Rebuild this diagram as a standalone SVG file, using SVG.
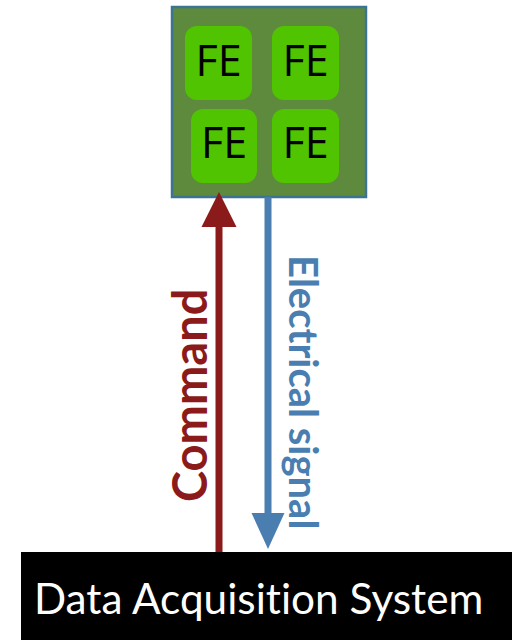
<svg xmlns="http://www.w3.org/2000/svg" width="512" height="640" viewBox="0 0 512 640">
<style>
.fe rect{fill:#50c400;}
.fe text{font-family:"Open Sans","Noto Sans",sans-serif;font-size:43px;fill:#000;text-anchor:middle;}
.lbl{font-family:Lato,"Liberation Sans",sans-serif;font-weight:bold;}
</style>
<rect width="512" height="640" fill="#fff"/>
<g id="module">
<rect x="172" y="7" width="194" height="190" fill="#5e8a3e" stroke="#3d7393" stroke-width="2.5"/>
</g>
<g id="fe1" class="fe"><rect x="185" y="26" width="67" height="74" rx="12"/><text x="218.5" y="76">FE</text></g>
<g id="fe2" class="fe"><rect x="272" y="26" width="67" height="74" rx="12"/><text x="305.5" y="76">FE</text></g>
<g id="fe3" class="fe"><rect x="191" y="109" width="66" height="74" rx="12"/><text x="224" y="158">FE</text></g>
<g id="fe4" class="fe"><rect x="272" y="109" width="67" height="74" rx="12"/><text x="305.5" y="158">FE</text></g>
<g id="connectors">
<line x1="219" y1="552" x2="219" y2="225" stroke="#8b1a1a" stroke-width="7"/>
<polygon points="219,192 236.5,227 201.5,227" fill="#8b1a1a"/>
<line x1="268" y1="197" x2="268" y2="515" stroke="#4a7eb0" stroke-width="7"/>
<polygon points="268,549 251.5,513 284.5,513" fill="#4a7eb0"/>
<text class="lbl" transform="translate(206.5,502) rotate(-90)" font-size="47" fill="#8b1a1a">Command</text>
<text class="lbl" transform="translate(289,255) rotate(90)" font-size="40" fill="#4a7eb0">Electrical signal</text>
</g>
<g id="daq">
<rect x="21" y="552" width="491" height="88" fill="#000"/>
<text x="34" y="614" font-family="Lato,'Liberation Sans',sans-serif" font-size="42.3" fill="#fff" style="font-variant-ligatures:none">Data Acquisition System</text>
</g>
</svg>
